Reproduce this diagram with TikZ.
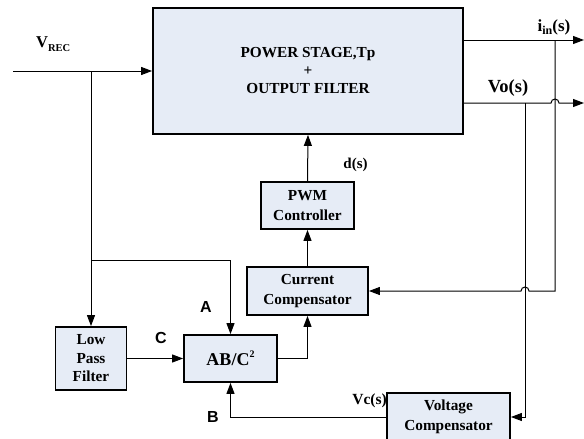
\documentclass[tikz,border=0pt]{standalone}
\usepackage{fontspec}
\setmainfont{Liberation Serif}
\newfontfamily\arialfont{Liberation Sans}
\usetikzlibrary{arrows.meta}
\definecolor{boxfill}{RGB}{230,236,246}
\tikzset{
  blk/.style={draw=black, line width=1.8pt, fill=boxfill, align=center, inner sep=0pt,
    font=\fontsize{15.3}{19.5}\selectfont\bfseries},
  conn/.style={line width=1pt, -{Triangle[length=11pt,width=8pt]}},
  lbl/.style={font=\fontsize{15}{18}\selectfont\bfseries, inner sep=0pt},
  sflbl/.style={font=\fontsize{16}{18}\selectfont\arialfont\bfseries, inner sep=0pt}
}
\begin{document}
\begin{tikzpicture}[x=1pt,y=1pt]
\useasboundingbox (0,0) rectangle (584,-439);
% blocks
\node[blk, minimum width=310pt, minimum height=126pt, font=\fontsize{15.3}{18}\selectfont\bfseries] (power) at (308,-71) {POWER STAGE,Tp\\+\\OUTPUT FILTER};
\node[blk, minimum width=93pt, minimum height=47pt] (pwm) at (307.5,-205.5) {PWM\\Controller};
\node[blk, minimum width=121pt, minimum height=48pt] (cc) at (307.5,-291) {Current\\Compensator};
\node[blk, minimum width=93pt, minimum height=47pt, font=\fontsize{18}{20}\selectfont\bfseries] (ab) at (230.5,-358.5) {AB/C\raisebox{0.45em}{\fontsize{10}{10}\selectfont 2}};
\node[blk, minimum width=71pt, minimum height=63pt, font=\fontsize{15.3}{18.5}\selectfont\bfseries] (lpf) at (91,-358.5) {Low\\Pass\\Filter};
\node[blk, minimum width=123pt, minimum height=48pt] (vc) at (448.5,-417) {Voltage\\Compensator};
% coordinates
\coordinate (vin) at (13,-71);
\coordinate (vb) at (91,-71);
\coordinate (ab1) at (91,-260);
\coordinate (iout) at (584,-40);
\coordinate (vout) at (584,-103);
\coordinate (ib) at (555,-40);
\coordinate (vob) at (525,-103);
% connectors
\draw[conn] (vin) -- (power.west |- vin);
\draw[conn] (vb) -- (lpf.north);
\draw[conn] (ab1) -| (ab.north);
\draw[conn] (lpf.east) -- (ab.west);
\draw[conn] (ab.east) -| (cc.south);
\draw[conn] (cc.north) -- (pwm.south);
\draw[conn] (pwm.north) -- (power.south);
\draw[conn] (power.east |- iout) -- (iout);
\draw[conn] (power.east |- vout) -- (551,-103) arc (180:0:4) -- (vout);
\draw[conn] (ib) -- (555,-291) -- (529,-291) arc (0:180:4) -- (cc.east);
\draw[conn] (vob) |- (vc.east);
\draw[conn] (vc.west) -| (ab.south);
% labels
\node[lbl, anchor=base west, font=\fontsize{16.5}{18}\selectfont\bfseries] (lvrec) at (36,-47.7) {V\raisebox{-0.2em}{\fontsize{10.5}{12}\selectfont REC}};
\node[lbl, anchor=base, font=\fontsize{17}{18}\selectfont\bfseries] (lin) at (554,-31) {i\raisebox{-0.2em}{\fontsize{12}{12}\selectfont in}(s)};
\node[lbl, font=\fontsize{18.5}{20}\selectfont\bfseries] (lvo) at (508,-88) {Vo(s)};
\node[lbl] (lds) at (355.5,-165) {d(s)};
\node[lbl, anchor=east, font=\fontsize{15.5}{18}\selectfont\bfseries] (lvcs) at (387,-401) {Vc(s)};
\node[sflbl] (la) at (206,-307) {A};
\node[sflbl] (lb) at (213,-417) {B};
\node[sflbl] (lc) at (161,-338) {C};
\end{tikzpicture}
\end{document}
